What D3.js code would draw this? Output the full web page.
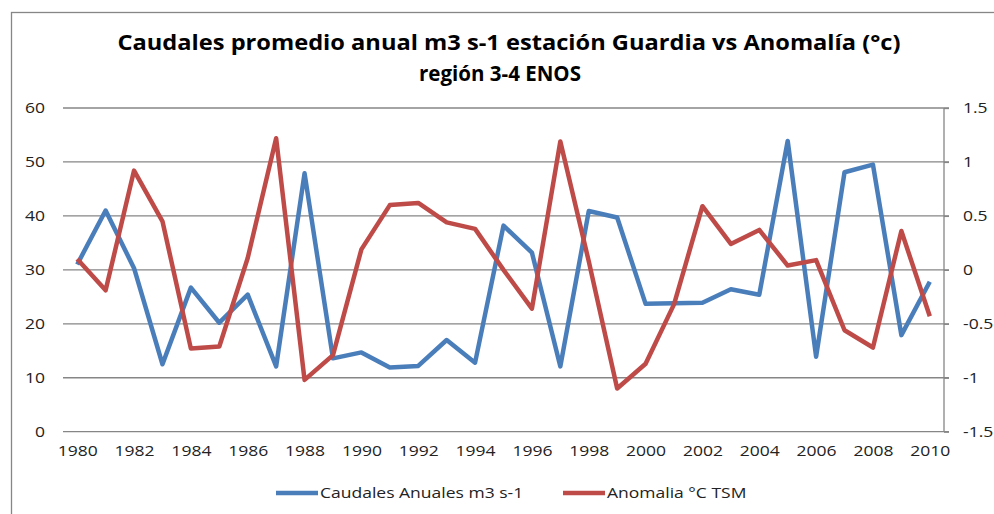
<!DOCTYPE html>
<html>
<head>
<meta charset="utf-8">
<script src="https://cdn.jsdelivr.net/npm/d3@7"></script>
<style>
  body { margin: 0; background: #fff; }
  text { font-family: "Open Sans", "Liberation Sans", sans-serif; }
</style>
</head>
<body>
<svg id="chart" width="994" height="514"></svg>
<script>
// data
const years = d3.range(1980, 2011);
const caudales = [31, 41, 30.3, 12.5, 26.7, 20.2, 25.4, 12.1, 47.9, 13.6, 14.7,
                  11.9, 12.2, 17.0, 12.8, 38.2, 33.2, 12.1, 40.9, 39.7, 23.7,
                  23.8, 23.9, 26.4, 25.4, 53.9, 13.9, 48.1, 49.5, 17.9, 27.8];
const anomalia = [0.10, -0.19, 0.92, 0.45, -0.73, -0.71, 0.11, 1.22, -1.02, -0.79, 0.19,
                  0.60, 0.62, 0.44, 0.38, 0.0, -0.36, 1.19, 0.08, -1.10, -0.87,
                  -0.32, 0.59, 0.24, 0.37, 0.04, 0.09, -0.56, -0.72, 0.36, -0.43];
const leftTicks = [0, 10, 20, 30, 40, 50, 60];
const rightTicks = [-1.5, -1, -0.5, 0, 0.5, 1, 1.5];
const xTickYears = d3.range(1980, 2011, 2);
const seriesNames = ["Caudales Anuales m3 s-1", "Anomalia °C TSM"];

const svg = d3.select("#chart");
const margin = {left: 63, right: 50, top: 108, bottom: 82};
const innerW = 944 - margin.left;
const innerH = 431.7 - margin.top;

const blue = "#4a7ebb", red = "#be4b48", grid = "#868686";
// text in the picture is wider than the installed fonts, stretch it a bit
const stretch = 1.25;
function widen(sel) {
  sel.each(function() {
    const w = this.getComputedTextLength();
    d3.select(this).attr("textLength", w * stretch).attr("lengthAdjust", "spacingAndGlyphs");
  });
}

// outer frame
svg.append("rect")
   .attr("x", 11.5).attr("y", 12.5)
   .attr("width", 1000).attr("height", 520)
   .attr("fill", "none").attr("stroke", grid).attr("stroke-width", 1.3);

// title
svg.append("text")
   .attr("x", 509).attr("y", 50)
   .attr("text-anchor", "middle")
   .attr("font-size", 21.5).attr("font-weight", "bold")
   .attr("textLength", 783).attr("lengthAdjust", "spacingAndGlyphs")
   .text("Caudales promedio anual m3 s-1 estación Guardia vs Anomalía (°c)");
svg.append("text")
   .attr("x", 500).attr("y", 81)
   .attr("text-anchor", "middle")
   .attr("font-size", 21.5).attr("font-weight", "bold")
   .attr("textLength", 162).attr("lengthAdjust", "spacingAndGlyphs")
   .text("región 3-4 ENOS");

const g = svg.append("g").attr("transform", `translate(${margin.left}, ${margin.top})`);

const xScale = d3.scalePoint().domain(years).range([0, innerW]).padding(0.5);
const yLeft = d3.scaleLinear().domain([0, 60]).range([innerH, 0]);
const yRight = d3.scaleLinear().domain([-1.5, 1.5]).range([innerH, 0]);

// gridlines
g.append("g")
 .selectAll("line")
 .data(leftTicks)
 .join("line")
 .attr("x1", 0).attr("x2", innerW + 5)
 .attr("y1", d => yLeft(d)).attr("y2", d => yLeft(d))
 .attr("stroke", grid).attr("stroke-width", 1.3);

// left axis labels
const leftAxis = g.append("g")
  .call(d3.axisLeft(yLeft).tickValues(leftTicks).tickSize(0).tickPadding(18));
leftAxis.select(".domain").remove();
leftAxis.selectAll("text").attr("font-size", 14).attr("fill", "#222")
        .attr("font-family", "Open Sans").call(widen);

// right axis
const rightAxis = g.append("g")
  .attr("transform", `translate(${innerW}, 0)`)
  .call(d3.axisRight(yRight).tickValues(rightTicks).tickSize(5).tickPadding(14)
          .tickFormat(d => String(d)));
rightAxis.select(".domain").attr("stroke", grid).attr("stroke-width", 1.3)
         .attr("d", `M0,0V${innerH}`);
rightAxis.selectAll(".tick line").attr("stroke", grid).attr("stroke-width", 1.3);
rightAxis.selectAll("text").attr("font-size", 14).attr("fill", "#222")
         .attr("font-family", "Open Sans").call(widen);

// x axis labels
const xAxis = g.append("g")
  .attr("transform", `translate(0, ${innerH})`)
  .call(d3.axisBottom(xScale).tickValues(xTickYears).tickSize(0).tickPadding(14));
xAxis.select(".domain").remove();
xAxis.selectAll("text").attr("font-size", 14).attr("fill", "#222")
     .attr("font-family", "Open Sans").call(widen);

// series lines
const lineLeft = d3.line().x((d, i) => xScale(years[i])).y(d => yLeft(d));
const lineRight = d3.line().x((d, i) => xScale(years[i])).y(d => yRight(d));

g.append("path")
 .datum(caudales)
 .attr("d", lineLeft)
 .attr("fill", "none").attr("stroke", blue)
 .attr("stroke-width", 4.5).attr("stroke-linejoin", "round");

g.append("path")
 .datum(anomalia)
 .attr("d", lineRight)
 .attr("fill", "none").attr("stroke", red)
 .attr("stroke-width", 4.5).attr("stroke-linejoin", "round");

// legend
const legend = svg.append("g").attr("transform", "translate(276, 493)");
const legendX = [0, 287];
seriesNames.forEach((name, i) => {
  const item = legend.append("g").attr("transform", `translate(${legendX[i]}, 0)`);
  item.append("line")
      .attr("x1", 0).attr("x2", 42).attr("y1", 0).attr("y2", 0)
      .attr("stroke", [blue, red][i]).attr("stroke-width", 4.5);
  item.append("text")
      .attr("x", 44).attr("y", 5)
      .attr("font-size", 14).attr("fill", "#222")
      .text(name)
      .call(widen);
});
</script>
</body>
</html>
